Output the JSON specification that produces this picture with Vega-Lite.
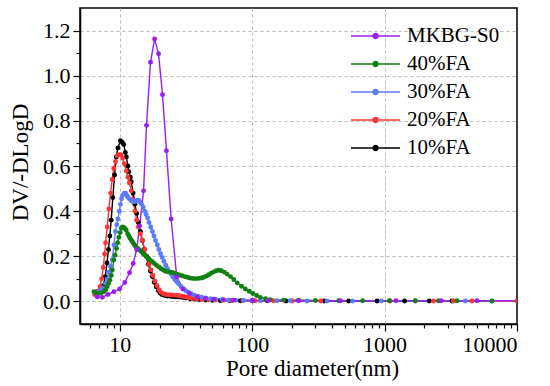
{
  "$schema": "https://vega.github.io/schema/vega-lite/v6.json",
  "width": 437,
  "height": 316,
  "autosize": {"type": "none"},
  "padding": {"left": 80, "top": 8, "right": 33, "bottom": 62},
  "config": {
    "font": "Liberation Serif",
    "view": {"stroke": "#000000", "strokeWidth": 1.5},
    "axis": {
      "domainColor": "#000000", "domainWidth": 1.5,
      "tickColor": "#000000", "tickWidth": 1.2,
      "labelColor": "#000000", "titleColor": "#000000",
      "labelFont": "Liberation Serif", "titleFont": "Liberation Serif",
      "labelFontSize": 22, "titleFontSize": 23, "titleFontWeight": "normal"
    }
  },
  "data": {"values": [
    {"s":"10%FA","d":6.61,"v":0.035},{"s":"10%FA","d":6.92,"v":0.045},{"s":"10%FA","d":7.24,"v":0.055},{"s":"10%FA","d":7.5,"v":0.07},{"s":"10%FA","d":7.76,"v":0.11},{"s":"10%FA","d":8.0,"v":0.17},{"s":"10%FA","d":8.2,"v":0.23},{"s":"10%FA","d":8.4,"v":0.29},{"s":"10%FA","d":8.6,"v":0.36},{"s":"10%FA","d":8.85,"v":0.46},{"s":"10%FA","d":9.12,"v":0.56},{"s":"10%FA","d":9.4,"v":0.64},{"s":"10%FA","d":9.66,"v":0.68},{"s":"10%FA","d":10.1,"v":0.712},{"s":"10%FA","d":10.4,"v":0.705},{"s":"10%FA","d":10.7,"v":0.695},{"s":"10%FA","d":11.0,"v":0.66},{"s":"10%FA","d":11.2,"v":0.64},{"s":"10%FA","d":11.5,"v":0.6},{"s":"10%FA","d":11.7,"v":0.575},{"s":"10%FA","d":12.0,"v":0.55},{"s":"10%FA","d":12.2,"v":0.53},{"s":"10%FA","d":12.6,"v":0.48},{"s":"10%FA","d":13.0,"v":0.43},{"s":"10%FA","d":13.4,"v":0.39},{"s":"10%FA","d":13.8,"v":0.35},{"s":"10%FA","d":14.3,"v":0.31},{"s":"10%FA","d":14.8,"v":0.27},{"s":"10%FA","d":15.3,"v":0.23},{"s":"10%FA","d":15.8,"v":0.2},{"s":"10%FA","d":16.4,"v":0.165},{"s":"10%FA","d":17.0,"v":0.135},{"s":"10%FA","d":17.6,"v":0.11},{"s":"10%FA","d":18.2,"v":0.085},{"s":"10%FA","d":18.8,"v":0.065},{"s":"10%FA","d":19.5,"v":0.048},{"s":"10%FA","d":20.2,"v":0.036},{"s":"10%FA","d":20.9,"v":0.03},{"s":"10%FA","d":21.9,"v":0.026},{"s":"10%FA","d":22.9,"v":0.024},{"s":"10%FA","d":24.0,"v":0.023},{"s":"10%FA","d":25.1,"v":0.022},{"s":"10%FA","d":26.3,"v":0.021},{"s":"10%FA","d":27.5,"v":0.02},{"s":"10%FA","d":28.8,"v":0.019},{"s":"10%FA","d":30.2,"v":0.017},{"s":"10%FA","d":31.6,"v":0.015},{"s":"10%FA","d":33.9,"v":0.012},{"s":"10%FA","d":36.3,"v":0.01},{"s":"10%FA","d":39.8,"v":0.008},{"s":"10%FA","d":44.7,"v":0.006},{"s":"10%FA","d":50.1,"v":0.005},{"s":"10%FA","d":57.5,"v":0.004},{"s":"10%FA","d":67.6,"v":0.004},{"s":"10%FA","d":81.3,"v":0.003},{"s":"10%FA","d":100,"v":0.003},{"s":"10%FA","d":130,"v":0.003},{"s":"10%FA","d":180,"v":0.002},{"s":"10%FA","d":350,"v":0.002},{"s":"10%FA","d":535,"v":0.002},{"s":"10%FA","d":877,"v":0.002},{"s":"10%FA","d":1416,"v":0.002},{"s":"10%FA","d":2175,"v":0.002},{"s":"10%FA","d":3226,"v":0.002},
    {"s":"20%FA","d":6.46,"v":0.03},{"s":"20%FA","d":6.76,"v":0.045},{"s":"20%FA","d":7.08,"v":0.065},{"s":"20%FA","d":7.28,"v":0.1},{"s":"20%FA","d":7.5,"v":0.15},{"s":"20%FA","d":7.67,"v":0.21},{"s":"20%FA","d":7.8,"v":0.26},{"s":"20%FA","d":8.03,"v":0.33},{"s":"20%FA","d":8.26,"v":0.41},{"s":"20%FA","d":8.51,"v":0.48},{"s":"20%FA","d":8.75,"v":0.54},{"s":"20%FA","d":9.0,"v":0.59},{"s":"20%FA","d":9.28,"v":0.62},{"s":"20%FA","d":9.55,"v":0.645},{"s":"20%FA","d":9.85,"v":0.65},{"s":"20%FA","d":10.2,"v":0.65},{"s":"20%FA","d":10.5,"v":0.635},{"s":"20%FA","d":10.8,"v":0.61},{"s":"20%FA","d":11.2,"v":0.578},{"s":"20%FA","d":11.5,"v":0.55},{"s":"20%FA","d":11.8,"v":0.526},{"s":"20%FA","d":12.2,"v":0.49},{"s":"20%FA","d":12.6,"v":0.45},{"s":"20%FA","d":13.0,"v":0.4},{"s":"20%FA","d":13.4,"v":0.36},{"s":"20%FA","d":13.8,"v":0.33},{"s":"20%FA","d":14.3,"v":0.3},{"s":"20%FA","d":14.8,"v":0.27},{"s":"20%FA","d":15.4,"v":0.23},{"s":"20%FA","d":16.0,"v":0.2},{"s":"20%FA","d":16.6,"v":0.165},{"s":"20%FA","d":17.2,"v":0.14},{"s":"20%FA","d":17.8,"v":0.115},{"s":"20%FA","d":18.4,"v":0.09},{"s":"20%FA","d":19.1,"v":0.07},{"s":"20%FA","d":19.8,"v":0.052},{"s":"20%FA","d":20.5,"v":0.04},{"s":"20%FA","d":21.3,"v":0.034},{"s":"20%FA","d":22.2,"v":0.031},{"s":"20%FA","d":23.2,"v":0.03},{"s":"20%FA","d":24.3,"v":0.029},{"s":"20%FA","d":25.4,"v":0.028},{"s":"20%FA","d":26.6,"v":0.027},{"s":"20%FA","d":27.8,"v":0.026},{"s":"20%FA","d":29.0,"v":0.024},{"s":"20%FA","d":30.4,"v":0.022},{"s":"20%FA","d":31.8,"v":0.019},{"s":"20%FA","d":33.5,"v":0.016},{"s":"20%FA","d":35.5,"v":0.013},{"s":"20%FA","d":38.0,"v":0.011},{"s":"20%FA","d":41.7,"v":0.009},{"s":"20%FA","d":46.8,"v":0.007},{"s":"20%FA","d":52.5,"v":0.006},{"s":"20%FA","d":60.3,"v":0.005},{"s":"20%FA","d":70.8,"v":0.004},{"s":"20%FA","d":85,"v":0.004},{"s":"20%FA","d":105,"v":0.003},{"s":"20%FA","d":145,"v":0.003},{"s":"20%FA","d":200,"v":0.002},{"s":"20%FA","d":330,"v":0.002},{"s":"20%FA","d":1100,"v":0.002},{"s":"20%FA","d":2343,"v":0.002},{"s":"20%FA","d":3300,"v":0.002},{"s":"20%FA","d":4567,"v":0.002},{"s":"20%FA","d":10000,"v":0.002},
    {"s":"30%FA","d":6.56,"v":0.04},{"s":"30%FA","d":6.85,"v":0.042},{"s":"30%FA","d":7.15,"v":0.05},{"s":"30%FA","d":7.45,"v":0.06},{"s":"30%FA","d":7.8,"v":0.08},{"s":"30%FA","d":8.03,"v":0.1},{"s":"30%FA","d":8.26,"v":0.13},{"s":"30%FA","d":8.5,"v":0.155},{"s":"30%FA","d":8.77,"v":0.185},{"s":"30%FA","d":9.01,"v":0.25},{"s":"30%FA","d":9.28,"v":0.31},{"s":"30%FA","d":9.48,"v":0.34},{"s":"30%FA","d":9.66,"v":0.365},{"s":"30%FA","d":9.9,"v":0.4},{"s":"30%FA","d":10.1,"v":0.43},{"s":"30%FA","d":10.3,"v":0.455},{"s":"30%FA","d":10.5,"v":0.47},{"s":"30%FA","d":10.8,"v":0.48},{"s":"30%FA","d":11.04,"v":0.48},{"s":"30%FA","d":11.3,"v":0.47},{"s":"30%FA","d":11.5,"v":0.462},{"s":"30%FA","d":11.8,"v":0.455},{"s":"30%FA","d":12.05,"v":0.45},{"s":"30%FA","d":12.3,"v":0.445},{"s":"30%FA","d":12.6,"v":0.442},{"s":"30%FA","d":12.9,"v":0.443},{"s":"30%FA","d":13.2,"v":0.445},{"s":"30%FA","d":13.5,"v":0.447},{"s":"30%FA","d":13.9,"v":0.447},{"s":"30%FA","d":14.2,"v":0.44},{"s":"30%FA","d":14.6,"v":0.43},{"s":"30%FA","d":15.0,"v":0.418},{"s":"30%FA","d":15.4,"v":0.4},{"s":"30%FA","d":15.8,"v":0.385},{"s":"30%FA","d":16.2,"v":0.37},{"s":"30%FA","d":16.6,"v":0.35},{"s":"30%FA","d":17.1,"v":0.33},{"s":"30%FA","d":17.6,"v":0.31},{"s":"30%FA","d":18.1,"v":0.29},{"s":"30%FA","d":18.6,"v":0.27},{"s":"30%FA","d":19.2,"v":0.25},{"s":"30%FA","d":19.7,"v":0.23},{"s":"30%FA","d":20.3,"v":0.212},{"s":"30%FA","d":20.9,"v":0.195},{"s":"30%FA","d":21.5,"v":0.178},{"s":"30%FA","d":22.2,"v":0.16},{"s":"30%FA","d":22.9,"v":0.145},{"s":"30%FA","d":23.6,"v":0.132},{"s":"30%FA","d":24.4,"v":0.12},{"s":"30%FA","d":25.2,"v":0.108},{"s":"30%FA","d":26.0,"v":0.097},{"s":"30%FA","d":26.9,"v":0.087},{"s":"30%FA","d":27.9,"v":0.077},{"s":"30%FA","d":29.0,"v":0.066},{"s":"30%FA","d":30.2,"v":0.056},{"s":"30%FA","d":31.5,"v":0.047},{"s":"30%FA","d":33.0,"v":0.04},{"s":"30%FA","d":34.6,"v":0.034},{"s":"30%FA","d":36.5,"v":0.028},{"s":"30%FA","d":38.8,"v":0.023},{"s":"30%FA","d":41.5,"v":0.019},{"s":"30%FA","d":44.7,"v":0.015},{"s":"30%FA","d":48.5,"v":0.012},{"s":"30%FA","d":53,"v":0.01},{"s":"30%FA","d":59,"v":0.008},{"s":"30%FA","d":66,"v":0.006},{"s":"30%FA","d":75,"v":0.005},{"s":"30%FA","d":86,"v":0.004},{"s":"30%FA","d":100,"v":0.004},{"s":"30%FA","d":115,"v":0.003},{"s":"30%FA","d":154,"v":0.003},{"s":"30%FA","d":194,"v":0.003},{"s":"30%FA","d":259,"v":0.002},{"s":"30%FA","d":367,"v":0.002},{"s":"30%FA","d":573,"v":0.002},{"s":"30%FA","d":944,"v":0.002},{"s":"30%FA","d":1705,"v":0.002},{"s":"30%FA","d":4064,"v":0.002},{"s":"30%FA","d":6467,"v":0.002},
    {"s":"40%FA","d":6.37,"v":0.043},{"s":"40%FA","d":6.65,"v":0.037},{"s":"40%FA","d":6.92,"v":0.035},{"s":"40%FA","d":7.2,"v":0.037},{"s":"40%FA","d":7.57,"v":0.043},{"s":"40%FA","d":7.8,"v":0.052},{"s":"40%FA","d":8.03,"v":0.065},{"s":"40%FA","d":8.22,"v":0.08},{"s":"40%FA","d":8.41,"v":0.094},{"s":"40%FA","d":8.6,"v":0.115},{"s":"40%FA","d":8.77,"v":0.139},{"s":"40%FA","d":9.01,"v":0.183},{"s":"40%FA","d":9.2,"v":0.205},{"s":"40%FA","d":9.44,"v":0.235},{"s":"40%FA","d":9.63,"v":0.26},{"s":"40%FA","d":9.83,"v":0.284},{"s":"40%FA","d":10.05,"v":0.305},{"s":"40%FA","d":10.25,"v":0.324},{"s":"40%FA","d":10.5,"v":0.33},{"s":"40%FA","d":10.7,"v":0.328},{"s":"40%FA","d":10.95,"v":0.322},{"s":"40%FA","d":11.17,"v":0.316},{"s":"40%FA","d":11.45,"v":0.3},{"s":"40%FA","d":11.7,"v":0.29},{"s":"40%FA","d":11.95,"v":0.28},{"s":"40%FA","d":12.2,"v":0.272},{"s":"40%FA","d":12.5,"v":0.262},{"s":"40%FA","d":12.8,"v":0.253},{"s":"40%FA","d":13.1,"v":0.245},{"s":"40%FA","d":13.4,"v":0.238},{"s":"40%FA","d":13.8,"v":0.232},{"s":"40%FA","d":14.2,"v":0.226},{"s":"40%FA","d":14.6,"v":0.22},{"s":"40%FA","d":15.0,"v":0.212},{"s":"40%FA","d":15.5,"v":0.205},{"s":"40%FA","d":16.0,"v":0.198},{"s":"40%FA","d":16.5,"v":0.19},{"s":"40%FA","d":17.0,"v":0.182},{"s":"40%FA","d":17.6,"v":0.176},{"s":"40%FA","d":18.2,"v":0.168},{"s":"40%FA","d":18.9,"v":0.16},{"s":"40%FA","d":19.7,"v":0.153},{"s":"40%FA","d":20.5,"v":0.145},{"s":"40%FA","d":21.3,"v":0.139},{"s":"40%FA","d":22.1,"v":0.134},{"s":"40%FA","d":23.0,"v":0.131},{"s":"40%FA","d":24.0,"v":0.13},{"s":"40%FA","d":24.9,"v":0.128},{"s":"40%FA","d":25.9,"v":0.125},{"s":"40%FA","d":27.0,"v":0.121},{"s":"40%FA","d":28.2,"v":0.117},{"s":"40%FA","d":29.5,"v":0.114},{"s":"40%FA","d":30.9,"v":0.11},{"s":"40%FA","d":32.3,"v":0.107},{"s":"40%FA","d":33.8,"v":0.104},{"s":"40%FA","d":35.3,"v":0.102},{"s":"40%FA","d":37.2,"v":0.101},{"s":"40%FA","d":39.3,"v":0.102},{"s":"40%FA","d":41.2,"v":0.104},{"s":"40%FA","d":43.1,"v":0.107},{"s":"40%FA","d":45.0,"v":0.112},{"s":"40%FA","d":46.9,"v":0.118},{"s":"40%FA","d":49.0,"v":0.125},{"s":"40%FA","d":51.2,"v":0.131},{"s":"40%FA","d":53.5,"v":0.136},{"s":"40%FA","d":55.9,"v":0.138},{"s":"40%FA","d":58.5,"v":0.136},{"s":"40%FA","d":61.5,"v":0.13},{"s":"40%FA","d":64.5,"v":0.121},{"s":"40%FA","d":68.5,"v":0.11},{"s":"40%FA","d":72.5,"v":0.097},{"s":"40%FA","d":77,"v":0.082},{"s":"40%FA","d":83,"v":0.067},{"s":"40%FA","d":88.6,"v":0.055},{"s":"40%FA","d":95,"v":0.045},{"s":"40%FA","d":101,"v":0.035},{"s":"40%FA","d":108,"v":0.026},{"s":"40%FA","d":115,"v":0.018},{"s":"40%FA","d":126,"v":0.012},{"s":"40%FA","d":137,"v":0.008},{"s":"40%FA","d":173,"v":0.006},{"s":"40%FA","d":224,"v":0.005},{"s":"40%FA","d":300,"v":0.004},{"s":"40%FA","d":450,"v":0.003},{"s":"40%FA","d":682,"v":0.003},{"s":"40%FA","d":1085,"v":0.003},{"s":"40%FA","d":1705,"v":0.003},{"s":"40%FA","d":2556,"v":0.003},{"s":"40%FA","d":3520,"v":0.003},{"s":"40%FA","d":6467,"v":0.002},
    {"s":"MKBG-S0","d":6.75,"v":0.02},{"s":"MKBG-S0","d":7.37,"v":0.018},{"s":"MKBG-S0","d":8.12,"v":0.031},{"s":"MKBG-S0","d":9.01,"v":0.043},{"s":"MKBG-S0","d":9.95,"v":0.055},{"s":"MKBG-S0","d":10.9,"v":0.084},{"s":"MKBG-S0","d":11.84,"v":0.127},{"s":"MKBG-S0","d":12.6,"v":0.168},{"s":"MKBG-S0","d":13.4,"v":0.23},{"s":"MKBG-S0","d":14.1,"v":0.334},{"s":"MKBG-S0","d":15.1,"v":0.49},{"s":"MKBG-S0","d":15.9,"v":0.78},{"s":"MKBG-S0","d":17.05,"v":1.06},{"s":"MKBG-S0","d":18.3,"v":1.163},{"s":"MKBG-S0","d":19.6,"v":1.097},{"s":"MKBG-S0","d":21.0,"v":0.916},{"s":"MKBG-S0","d":22.5,"v":0.668},{"s":"MKBG-S0","d":24.4,"v":0.365},{"s":"MKBG-S0","d":26.9,"v":0.109},{"s":"MKBG-S0","d":29.9,"v":0.055},{"s":"MKBG-S0","d":33.6,"v":0.035},{"s":"MKBG-S0","d":38.4,"v":0.02},{"s":"MKBG-S0","d":44.3,"v":0.013},{"s":"MKBG-S0","d":51.2,"v":0.01},{"s":"MKBG-S0","d":60.6,"v":0.008},{"s":"MKBG-S0","d":72.2,"v":0.006},{"s":"MKBG-S0","d":101,"v":0.004},{"s":"MKBG-S0","d":132,"v":0.004},{"s":"MKBG-S0","d":224,"v":0.003},{"s":"MKBG-S0","d":463,"v":0.003},{"s":"MKBG-S0","d":1218,"v":0.003},{"s":"MKBG-S0","d":2680,"v":0.003},{"s":"MKBG-S0","d":4982,"v":0.003},{"s":"MKBG-S0","d":11000,"v":0.003}
  ]},
  "resolve": {"axis": {"x": "independent", "y": "independent"}},
  "layer": [
    {
      "mark": {"type": "line", "strokeWidth": 1.4, "clip": true},
      "encoding": {
        "x": {"field": "d", "type": "quantitative",
          "scale": {"type": "log", "domain": [5, 10000], "nice": false},
          "axis": {"orient": "bottom", "values": [10, 100, 1000, 10000], "format": "d", "tickSize": 7, "labelPadding": 3,
            "labelFont": "Liberation Serif", "labelFontSize": 22, "titleFont": "Liberation Serif", "titleFontSize": 23,
            "grid": true, "gridColor": "#bbbbbb", "gridDash": [3, 3], "gridWidth": 1,
            "gridOpacity": {"condition": {"test": "datum.value >= 10000", "value": 0}, "value": 1},
            "title": "Pore diameter(nm)", "titleX": 232, "titleY": 51, "titleBaseline": "alphabetic", "titleAlign": "center"}},
        "y": {"field": "v", "type": "quantitative",
          "scale": {"domain": [-0.1, 1.3], "nice": false, "zero": false},
          "axis": {"orient": "left", "values": [0, 0.2, 0.4, 0.6, 0.8, 1.0, 1.2], "format": ".1f", "tickSize": 7, "labelPadding": 3,
            "labelFont": "Liberation Serif", "labelFontSize": 22, "titleFont": "Liberation Serif", "titleFontSize": 23,
            "grid": true, "gridColor": "#bbbbbb", "gridDash": [3, 3], "gridWidth": 1,
            "title": "DV/-DLogD", "titleX": -52.5, "titleY": 154, "titleAngle": -90, "titleAlign": "center", "titleBaseline": "alphabetic"}},
        "color": {"field": "s", "type": "nominal",
          "scale": {"domain": ["MKBG-S0", "40%FA", "30%FA", "20%FA", "10%FA"], "range": ["#9A1EF0", "#0F800F", "#5B7CFA", "#FF3333", "#000000"]},
          "legend": {"orient": "none", "legendX": 270, "legendY": 13.5, "title": null, "padding": 0,
            "symbolType": "M-1,0L2.63,0M0.637,0A0.178,0.178,0,1,1,0.993,0A0.178,0.178,0,1,1,0.637,0Z",
            "symbolSize": 729, "symbolStrokeWidth": 1.5, "labelOffset": 28, "rowPadding": 3,
            "labelFont": "Liberation Serif", "labelFontSize": 21, "labelColor": "#000000", "labelLimit": 0,
            "encode": {"symbols": {"update": {"fill": {"scale": "color", "field": "value"}, "stroke": {"scale": "color", "field": "value"}, "opacity": {"value": 1}}}}}}
      }
    },
    {
      "mark": {"type": "point", "filled": true, "size": 24, "opacity": 1, "clip": true},
      "encoding": {
        "x": {"field": "d", "type": "quantitative",
          "axis": {"orient": "bottom", "values": [6, 7, 8, 9, 20, 30, 40, 50, 60, 70, 80, 90, 200, 300, 400, 500, 600, 700, 800, 900, 2000, 3000, 4000, 5000, 6000, 7000, 8000, 9000],
            "labels": false, "domain": false, "grid": false, "tickSize": 4, "title": null}},
        "y": {"field": "v", "type": "quantitative",
          "axis": {"orient": "left", "values": [0.1, 0.3, 0.5, 0.7, 0.9, 1.1], "labels": false, "domain": false, "grid": false, "tickSize": 4, "title": null}},
        "color": {"field": "s", "type": "nominal",
          "scale": {"domain": ["MKBG-S0", "40%FA", "30%FA", "20%FA", "10%FA"], "range": ["#9A1EF0", "#0F800F", "#5B7CFA", "#FF3333", "#000000"]},
          "legend": {"orient": "none", "legendX": 270, "legendY": 13.5, "title": null, "padding": 0,
            "symbolType": "M-1,0L2.63,0M0.637,0A0.178,0.178,0,1,1,0.993,0A0.178,0.178,0,1,1,0.637,0Z",
            "symbolSize": 729, "symbolStrokeWidth": 1.5, "labelOffset": 28, "rowPadding": 3,
            "labelFont": "Liberation Serif", "labelFontSize": 21, "labelColor": "#000000", "labelLimit": 0,
            "encode": {"symbols": {"update": {"fill": {"scale": "color", "field": "value"}, "stroke": {"scale": "color", "field": "value"}, "opacity": {"value": 1}}}}}}
      }
    }
  ]
}
